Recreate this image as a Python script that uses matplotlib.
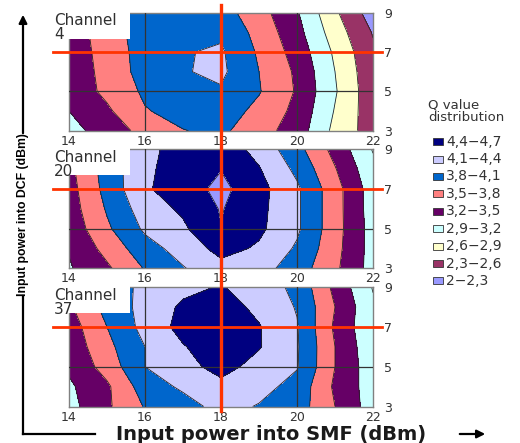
import matplotlib
matplotlib.use("Agg")
import matplotlib.pyplot as plt
import matplotlib.transforms as mtransforms
from matplotlib.colors import ListedColormap
from matplotlib.patches import Rectangle, FancyArrowPatch
from matplotlib.lines import Line2D

# grid of the measurement: input power into SMF (x) and into DCF (y), dBm
smf = [14, 15, 16, 17, 18, 19, 20, 21, 22]
dcf = [3, 4, 5, 6, 7, 8, 9]

# Q values, one row per DCF power (3 .. 9 dBm)
q_ch4 = [
    [3.10, 3.33, 3.60, 3.79, 3.86, 3.62, 3.36, 2.82, 2.45],
    [3.20, 3.45, 3.78, 3.90, 3.95, 3.72, 3.42, 2.88, 2.42],
    [3.30, 3.57, 3.85, 4.00, 4.07, 3.82, 3.47, 2.93, 2.40],
    [3.30, 3.60, 3.92, 4.08, 4.16, 3.80, 3.45, 2.90, 2.38],
    [3.32, 3.62, 3.93, 4.08, 4.14, 3.76, 3.38, 2.85, 2.35],
    [3.30, 3.68, 3.92, 4.02, 4.05, 3.70, 3.30, 2.75, 2.28],
    [3.28, 3.72, 3.92, 3.98, 3.93, 3.62, 3.23, 2.65, 2.15],
]
q_ch20 = [
    [3.17, 3.45, 3.82, 4.08, 4.30, 4.22, 3.95, 3.56, 3.08],
    [3.22, 3.60, 3.98, 4.22, 4.50, 4.36, 4.06, 3.60, 3.08],
    [3.30, 3.75, 4.15, 4.35, 4.69, 4.46, 4.15, 3.62, 3.08],
    [3.35, 3.83, 4.25, 4.45, 4.72, 4.48, 4.15, 3.62, 3.06],
    [3.38, 3.90, 4.36, 4.56, 4.78, 4.50, 4.15, 3.62, 3.05],
    [3.42, 3.93, 4.33, 4.57, 4.69, 4.42, 4.03, 3.52, 2.98],
    [3.45, 3.95, 4.30, 4.55, 4.58, 4.30, 3.90, 3.40, 2.88],
]
q_ch37 = [
    [3.10, 3.45, 3.82, 3.98, 4.20, 4.08, 3.95, 3.50, 3.05],
    [3.15, 3.45, 3.95, 4.15, 4.32, 4.20, 4.00, 3.45, 3.05],
    [3.25, 3.62, 4.10, 4.30, 4.50, 4.30, 4.12, 3.50, 3.02],
    [3.30, 3.72, 4.10, 4.38, 4.58, 4.42, 4.13, 3.50, 2.98],
    [3.35, 3.80, 4.20, 4.50, 4.60, 4.42, 4.12, 3.45, 2.95],
    [3.45, 3.90, 4.20, 4.45, 4.55, 4.32, 4.08, 3.50, 2.95],
    [3.50, 3.92, 4.18, 4.32, 4.42, 4.25, 4.03, 3.42, 2.88],
]
channels = ["4", "20", "37"]

levels = [2.0, 2.3, 2.6, 2.9, 3.2, 3.5, 3.8, 4.1, 4.4, 4.7]
band_colors = ["#9999FF", "#993366", "#FFFFCC", "#CCFFFF", "#660066",
               "#FF8080", "#0066CC", "#CCCCFF", "#000080"]
band_labels = ["2−2,3", "2,3−2,6", "2,6−2,9", "2,9−3,2", "3,2−3,5",
               "3,5−3,8", "3,8−4,1", "4,1−4,4", "4,4−4,7"]
x_ticks = [14, 16, 18, 20, 22]
y_ticks = [3, 5, 7, 9]

W, H = 520, 443
fig = plt.figure(figsize=(W / 100, H / 100), dpi=100)

cmap = ListedColormap(band_colors)
cmap.set_over("#9999FF")

# panel rectangles in pixels: top, bottom
panels_px = [(12.7, 130.7), (149.3, 268.3), (287.0, 406.5)]
x0, x1 = 69, 373
red = "#FF3300"

axes = []
for (top, bot), q, ch in zip(panels_px, [q_ch4, q_ch20, q_ch37], channels):
    ax = fig.add_axes([x0 / W, 1 - bot / H, (x1 - x0) / W, (bot - top) / H])
    axes.append(ax)
    ax.contourf(smf, dcf, q, levels=levels, cmap=cmap, extend="max")
    ax.contour(smf, dcf, q, levels=levels, colors="#222222", linewidths=0.6)
    for xv in [16, 18, 20]:
        ax.axvline(xv, color="#333333", lw=0.9, zorder=3)
    ax.axhline(5, color="#333333", lw=0.9, zorder=3)
    ax.set_xlim(14, 22)
    ax.set_ylim(3, 9)
    ax.set_xticks(x_ticks)
    ax.set_yticks(y_ticks)
    ax.yaxis.tick_right()
    ax.tick_params(length=0, labelsize=9, labelcolor="#333333")
    ax.tick_params(axis="x", pad=3)
    ax.tick_params(axis="y", pad=8)
    for s in ax.spines.values():
        s.set_color("#808080")
        s.set_linewidth(1)

    # red horizontal marker at 7 dBm
    tr = mtransforms.blended_transform_factory(fig.transFigure, ax.transData)
    fig.add_artist(Line2D([53 / W, 382 / W], [7, 7], transform=tr,
                          color=red, lw=2, zorder=10))

    # channel label box
    fig.add_artist(Rectangle((52 / W, 1 - (top + 26) / H), 78 / W, 27 / H,
                             transform=fig.transFigure, fc="white", ec="none",
                             zorder=5))
    fig.text(54 / W, 1 - (top + 0.5) / H, "Channel\n" + ch, va="top",
             ha="left", fontsize=11, color="#303030", linespacing=0.92,
             zorder=6)

# red vertical marker at 18 dBm through all panels
tr = mtransforms.blended_transform_factory(axes[-1].transData, fig.transFigure)
fig.add_artist(Line2D([18, 18], [1 - 411 / H, 1 - 5 / H], transform=tr,
                      color=red, lw=2.4, zorder=10))

# axis titles with arrows
ax_x = 23 / W
corner_y = 1 - 434 / H
fig.add_artist(Line2D([ax_x, ax_x], [corner_y, 1 - 296 / H],
                      transform=fig.transFigure, color="black", lw=1.6))
fig.add_artist(FancyArrowPatch((ax_x, 1 - 136 / H), (ax_x, 1 - 12 / H),
                               transform=fig.transFigure, arrowstyle="-|>",
                               mutation_scale=12, lw=1.6, color="black"))
fig.text(ax_x, 1 - 215 / H, "Input power into DCF (dBm)", rotation=90,
         ha="center", va="center", fontsize=8.8, fontweight="bold",
         family="Liberation Sans", color="black")
fig.add_artist(Line2D([ax_x, 95 / W], [corner_y, corner_y],
                      transform=fig.transFigure, color="black", lw=1.6))
fig.add_artist(FancyArrowPatch((457 / W, corner_y), (488 / W, corner_y),
                               transform=fig.transFigure, arrowstyle="-|>",
                               mutation_scale=12, lw=1.6, color="black"))
fig.text(271 / W, corner_y, "Input power into SMF (dBm)", ha="center",
         va="center", fontsize=14, fontweight="bold", color="#1a1a1a")

# legend
fig.text(428 / W, 1 - 98 / H, "Q value\ndistribution", ha="left", va="top",
         fontsize=9.5, color="#333333", linespacing=1.0)
for i, (c, lab) in enumerate(zip(band_colors[::-1], band_labels[::-1])):
    yc = 141.7 + i * 17.4
    fig.add_artist(Rectangle((433 / W, 1 - (yc + 3.5) / H), 10 / W, 7 / H,
                             transform=fig.transFigure, fc=c, ec="#333333",
                             lw=0.6))
    fig.text(446 / W, 1 - yc / H, lab, ha="left", va="center", fontsize=10,
             color="#333333")

fig.savefig("out.png", dpi=100)
